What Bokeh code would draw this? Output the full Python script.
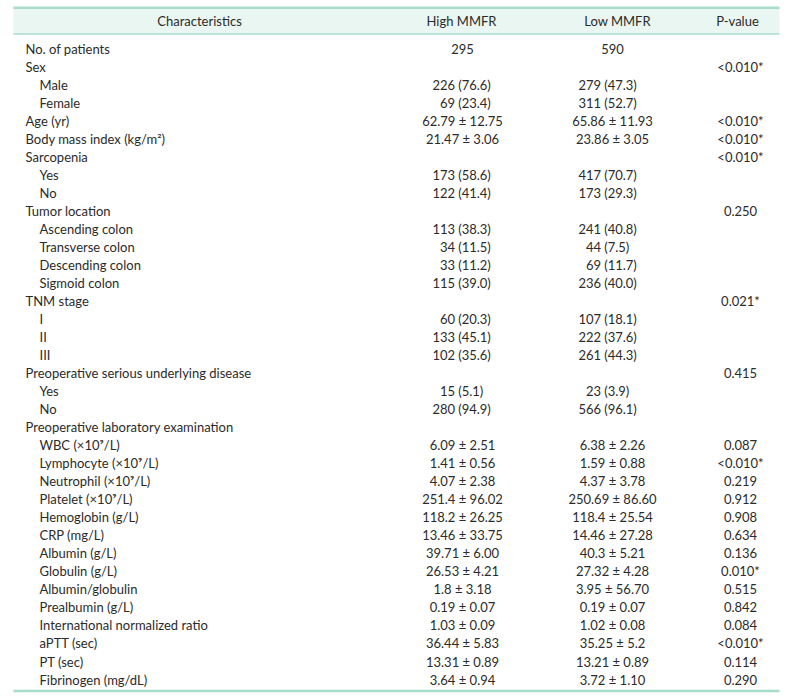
from bokeh.plotting import figure
from bokeh.models import Range1d
from bokeh.embed import file_html
from bokeh.resources import INLINE
from bokeh.core.properties import value

# ---------------- data ----------------
headers = ["Characteristics", "High MMFR", "Low MMFR", "P-value"]

characteristics = [
    "No. of patients", "Sex", "Male", "Female", "Age (yr)",
    "Body mass index (kg/m\u00b2)", "Sarcopenia", "Yes", "No",
    "Tumor location", "Ascending colon", "Transverse colon", "Descending colon",
    "Sigmoid colon", "TNM stage", "I", "II", "III",
    "Preoperative serious underlying disease", "Yes", "No",
    "Preoperative laboratory examination",
    "WBC (\u00d710\u2079/L)", "Lymphocyte (\u00d710\u2079/L)", "Neutrophil (\u00d710\u2079/L)",
    "Platelet (\u00d710\u2079/L)", "Hemoglobin (g/L)", "CRP (mg/L)", "Albumin (g/L)",
    "Globulin (g/L)", "Albumin/globulin", "Prealbumin (g/L)",
    "International normalized ratio", "aPTT (sec)", "PT (sec)", "Fibrinogen (mg/dL)",
]
indent_levels = [0, 0, 1, 1, 0, 0, 0, 1, 1, 0, 1, 1, 1, 1, 0, 1, 1, 1, 0, 1, 1, 0,
                 1, 1, 1, 1, 1, 1, 1, 1, 1, 1, 1, 1, 1, 1]
high_mmfr = [
    "295", "", "226 (76.6)", "69 (23.4)", "62.79 \u00b1 12.75", "21.47 \u00b1 3.06", "",
    "173 (58.6)", "122 (41.4)", "", "113 (38.3)", "34 (11.5)", "33 (11.2)", "115 (39.0)",
    "", "60 (20.3)", "133 (45.1)", "102 (35.6)", "", "15 (5.1)", "280 (94.9)", "",
    "6.09 \u00b1 2.51", "1.41 \u00b1 0.56", "4.07 \u00b1 2.38", "251.4 \u00b1 96.02",
    "118.2 \u00b1 26.25", "13.46 \u00b1 33.75", "39.71 \u00b1 6.00", "26.53 \u00b1 4.21",
    "1.8 \u00b1 3.18", "0.19 \u00b1 0.07", "1.03 \u00b1 0.09", "36.44 \u00b1 5.83",
    "13.31 \u00b1 0.89", "3.64 \u00b1 0.94",
]
low_mmfr = [
    "590", "", "279 (47.3)", "311 (52.7)", "65.86 \u00b1 11.93", "23.86 \u00b1 3.05", "",
    "417 (70.7)", "173 (29.3)", "", "241 (40.8)", "44 (7.5)", "69 (11.7)", "236 (40.0)",
    "", "107 (18.1)", "222 (37.6)", "261 (44.3)", "", "23 (3.9)", "566 (96.1)", "",
    "6.38 \u00b1 2.26", "1.59 \u00b1 0.88", "4.37 \u00b1 3.78", "250.69 \u00b1 86.60",
    "118.4 \u00b1 25.54", "14.46 \u00b1 27.28", "40.3 \u00b1 5.21", "27.32 \u00b1 4.28",
    "3.95 \u00b1 56.70", "0.19 \u00b1 0.07", "1.02 \u00b1 0.08", "35.25 \u00b1 5.2",
    "13.21 \u00b1 0.89", "3.72 \u00b1 1.10",
]
p_values = [
    "", "<0.010*", "", "", "<0.010*", "<0.010*", "<0.010*", "", "", "0.250", "", "", "",
    "", "0.021*", "", "", "", "0.415", "", "", "",
    "0.087", "<0.010*", "0.219", "0.912", "0.908", "0.634", "0.136", "0.010*",
    "0.515", "0.842", "0.084", "<0.010*", "0.114", "0.290",
]

# ---------------- layout / style ----------------
FONT = "Lato"
FS = "13px"
TXT = "#2b2b2b"
LINE = "#a6dcc8"
HEAD_BG = "#eaf6f1"

W, H = 789, 699
ROW0, ROWH = 48.0, 18.03           # pixel centre of first body row, row pitch


def row_of(px):
    return (px - ROW0) / ROWH


X_LABEL, X_INDENT = 25, 14
X_HIGH, X_LOW, X_P = 462, 612, 740
X_HIGH_NUM, X_LOW_NUM = 454.5, 600.5   # right edge of counts, "(%)" follows
X_HDR = [199, 461, 617, 737]
X_LEFT, X_RIGHT = 13, 779

p = figure(width=W, height=H, output_backend="svg", toolbar_location=None,
           x_range=Range1d(0, W), y_range=Range1d(row_of(H), row_of(0)),
           min_border=0, outline_line_color=None)
p.axis.visible = False
p.grid.visible = False
p.background_fill_color = "white"
p.border_fill_color = "white"

# header band and rules
p.quad(left=[X_LEFT], right=[X_RIGHT], top=[row_of(7)], bottom=[row_of(33)],
       fill_color=HEAD_BG, line_color=None)
p.segment(x0=[X_LEFT] * 3, x1=[X_RIGHT] * 3,
          y0=[row_of(7.2), row_of(33.5), row_of(690.5)],
          y1=[row_of(7.2), row_of(33.5), row_of(690.5)],
          line_color=LINE, line_width=[2.5, 1.5, 2.5])

common = dict(text_font=value(FONT), text_font_size=FS, text_color=TXT,
              text_baseline="middle")

p.text(x=X_HDR, y=[row_of(20.5)] * 4, text=headers, text_align="center", **common)

n = len(characteristics)
rows = list(range(n))

p.text(x=[X_LABEL + X_INDENT * lv for lv in indent_levels], y=rows,
       text=characteristics, text_align="left", **common)

p.text(x=[X_P] * n, y=rows, text=p_values, text_align="center", **common)


def split_cells(vals, x_center, x_num):
    cx, cy, ct = [], [], []       # centred cells
    nx, ny, nt = [], [], []       # count part (right aligned)
    px_, py, pt = [], [], []      # percent part (left aligned)
    for i, v in enumerate(vals):
        if not v:
            continue
        if " (" in v:
            a, b = v.split(" (", 1)
            nx.append(x_num); ny.append(i); nt.append(a)
            px_.append(x_num + 3.2); py.append(i); pt.append("(" + b)
        else:
            cx.append(x_center); cy.append(i); ct.append(v)
    p.text(x=cx, y=cy, text=ct, text_align="center", **common)
    p.text(x=nx, y=ny, text=nt, text_align="right", **common)
    p.text(x=px_, y=py, text=pt, text_align="left", **common)


split_cells(high_mmfr, X_HIGH, X_HIGH_NUM)
split_cells(low_mmfr, X_LOW, X_LOW_NUM)

open("out.html", "w").write(file_html(p, INLINE))
